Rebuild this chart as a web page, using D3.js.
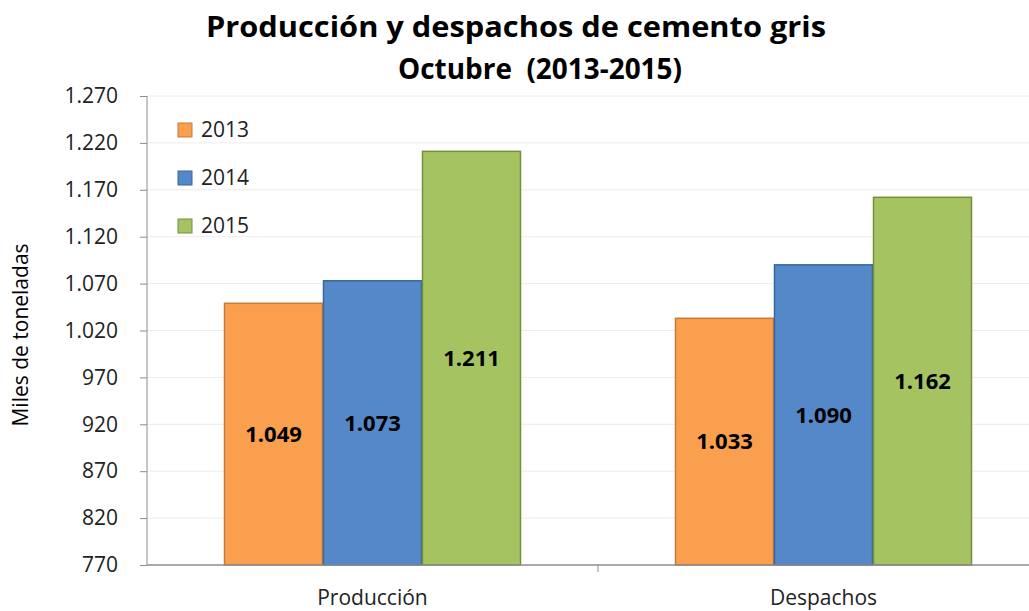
<!DOCTYPE html>
<html>
<head>
<meta charset="utf-8">
<script src="https://cdn.jsdelivr.net/npm/d3@7"></script>
<style>
  body { margin: 0; background: #fff; }
  svg { font-family: "Open Sans", Lato, sans-serif; }
</style>
</head>
<body>
<svg id="chart" width="1029" height="611"></svg>
<script>
// data
const categories = ["Producción", "Despachos"];
const years = ["2013", "2014", "2015"];
const values2013 = [1049, 1033];
const values2014 = [1073, 1090];
const values2015 = [1211, 1162];
const yTicks = [770, 820, 870, 920, 970, 1020, 1070, 1120, 1170, 1220, 1270];

const colors = ["#F99F4E", "#5588C8", "#A5C461"];
const edges = ["#C77A36", "#3A6698", "#74903E"];

const series = [values2013, values2014, values2015];

const locale = d3.formatLocale({decimal: ",", thousands: ".", grouping: [3], currency: ["", ""]});
const fmt = locale.format(",d");

const svg = d3.select("svg#chart");
const margin = {left: 147, right: -20, top: 96, bottom: 46};
const width = 1029 - margin.left - margin.right;
const height = 611 - margin.top - margin.bottom;

const x0 = d3.scaleBand().domain(categories).range([0, width]).paddingInner(0).paddingOuter(0);
const x1 = d3.scaleBand().domain(years).range([77, x0.bandwidth() - 77]);
const y = d3.scaleLinear().domain([770, 1270]).range([height, 0]);

const g = svg.append("g").attr("transform", "translate(" + margin.left + "," + margin.top + ")");

// gridlines
g.append("g").attr("class", "grid")
  .selectAll("line").data(yTicks.slice(1))
  .enter().append("line")
    .attr("x1", 0).attr("x2", width)
    .attr("y1", function(d) { return y(d); })
    .attr("y2", function(d) { return y(d); })
    .attr("stroke", "#ececec")
    .attr("stroke-width", 1);

// bars
const groups = g.selectAll("g.group").data(categories)
  .enter().append("g")
    .attr("class", "group")
    .attr("transform", function(d) { return "translate(" + x0(d) + ",0)"; });

groups.selectAll("rect")
  .data(function(d, ci) { return years.map(function(yr, si) { return {year: yr, si: si, value: series[si][ci]}; }); })
  .enter().append("rect")
    .attr("x", function(d) { return x1(d.year) + 0.5; })
    .attr("width", x1.bandwidth() - 1)
    .attr("y", function(d) { return y(d.value); })
    .attr("height", function(d) { return height - y(d.value); })
    .attr("fill", function(d) { return colors[d.si]; })
    .attr("stroke", function(d) { return edges[d.si]; })
    .attr("stroke-width", 1.5);

// value labels
groups.selectAll("text.val")
  .data(function(d, ci) { return years.map(function(yr, si) { return {year: yr, value: series[si][ci]}; }); })
  .enter().append("text")
    .attr("class", "val")
    .attr("x", function(d) { return x1(d.year) + x1.bandwidth() / 2; })
    .attr("y", function(d) { return (y(d.value) + height) / 2; })
    .attr("dy", "0.35em")
    .attr("text-anchor", "middle")
    .attr("font-size", "22px")
    .attr("font-weight", "bold")
    .attr("fill", "#000")
    .text(function(d) { return fmt(d.value); });

// y axis
const yAxis = g.append("g")
  .call(d3.axisLeft(y).tickValues(yTicks).tickSize(7).tickPadding(22).tickFormat(fmt));
yAxis.select(".domain").attr("stroke", "#8c8c8c").attr("d", "M0,0V" + height);
yAxis.selectAll(".tick line").attr("stroke", "#8c8c8c");
yAxis.selectAll("text").attr("font-size", "21px").attr("fill", "#222").attr("font-family", "'Open Sans', sans-serif");

// x axis
const xAxis = g.append("g").attr("transform", "translate(0," + height + ")");
xAxis.append("line")
  .attr("x1", 0).attr("x2", width)
  .attr("stroke", "#8c8c8c").attr("stroke-width", 1.5);
xAxis.selectAll("line.div").data(categories.slice(1))
  .enter().append("line")
    .attr("x1", function(d) { return x0(d); })
    .attr("x2", function(d) { return x0(d); })
    .attr("y1", 0).attr("y2", 7)
    .attr("stroke", "#8c8c8c");
xAxis.selectAll("text").data(categories)
  .enter().append("text")
    .attr("x", function(d) { return x0(d) + x0.bandwidth() / 2; })
    .attr("y", 40)
    .attr("text-anchor", "middle")
    .attr("font-size", "21px")
    .attr("fill", "#222")
    .text(function(d) { return d; });

// y label
svg.append("text")
  .attr("transform", "translate(28,335) rotate(-90)")
  .attr("text-anchor", "middle")
  .attr("font-size", "21px")
  .attr("fill", "#000")
  .text("Miles de toneladas");

// title
const title = svg.append("text")
  .attr("text-anchor", "middle")
  .attr("font-size", "28px")
  .attr("font-weight", "bold")
  .attr("fill", "#000");
title.append("tspan").attr("x", 516).attr("y", 37)
  .attr("textLength", 620).attr("lengthAdjust", "spacingAndGlyphs")
  .text("Producción y despachos de cemento gris");
title.append("tspan").attr("x", 540).attr("y", 79)
  .attr("textLength", 284).attr("lengthAdjust", "spacingAndGlyphs")
  .attr("xml:space", "preserve")
  .text("Octubre  (2013-2015)");

// legend
const legend = svg.append("g").attr("class", "legend")
  .selectAll("g").data(years)
  .enter().append("g")
    .attr("transform", function(d, i) { return "translate(178," + (123 + 48 * i) + ")"; });
legend.append("rect")
  .attr("width", 14).attr("height", 14)
  .attr("fill", function(d, i) { return colors[i]; })
  .attr("stroke", function(d, i) { return edges[i]; });
legend.append("text")
  .attr("x", 23).attr("y", 7).attr("dy", "0.35em")
  .attr("font-size", "21px")
  .attr("fill", "#222")
  .text(function(d) { return d; });
</script>
</body>
</html>
